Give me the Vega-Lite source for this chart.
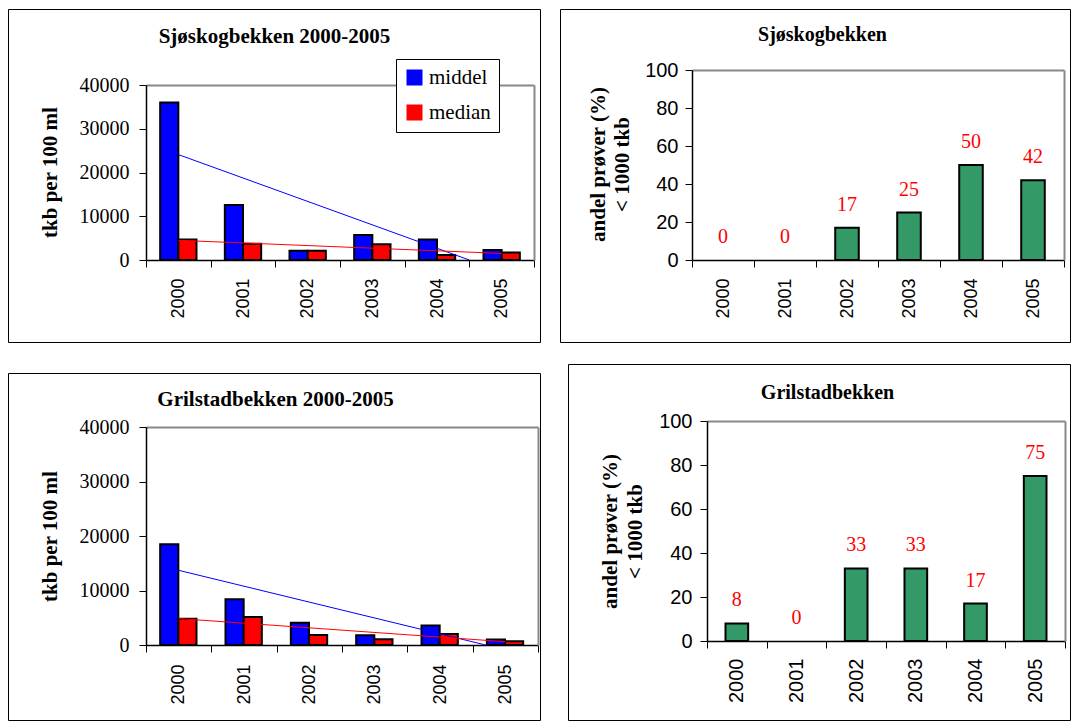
{
  "$schema": "https://vega.github.io/schema/vega-lite/v6.json",
  "background": "white",
  "padding": {"left": -2, "top": 8, "right": 0, "bottom": 0},
  "datasets": {
    "sjo_tkb": [
      {"year": "2000", "series": "middel", "value": 36000},
      {"year": "2001", "series": "middel", "value": 12600},
      {"year": "2002", "series": "middel", "value": 2100},
      {"year": "2003", "series": "middel", "value": 5700},
      {"year": "2004", "series": "middel", "value": 4700},
      {"year": "2005", "series": "middel", "value": 2300},
      {"year": "2000", "series": "median", "value": 4700},
      {"year": "2001", "series": "median", "value": 3700},
      {"year": "2002", "series": "median", "value": 2100},
      {"year": "2003", "series": "median", "value": 3600},
      {"year": "2004", "series": "median", "value": 1150},
      {"year": "2005", "series": "median", "value": 1700}
    ],
    "sjo_trend": [
      {"t": 2000, "series": "middel", "value": 24100},
      {"t": 2004.5, "series": "middel", "value": 0},
      {"t": 2000, "series": "median", "value": 4500},
      {"t": 2005, "series": "median", "value": 1500}
    ],
    "sjo_pct": [
      {"year": "2000", "pct": 0},
      {"year": "2001", "pct": 0},
      {"year": "2002", "pct": 17},
      {"year": "2003", "pct": 25},
      {"year": "2004", "pct": 50},
      {"year": "2005", "pct": 42}
    ],
    "gril_tkb": [
      {"year": "2000", "series": "middel", "value": 18500},
      {"year": "2001", "series": "middel", "value": 8400},
      {"year": "2002", "series": "middel", "value": 4100},
      {"year": "2003", "series": "middel", "value": 1800},
      {"year": "2004", "series": "middel", "value": 3600},
      {"year": "2005", "series": "middel", "value": 1000},
      {"year": "2000", "series": "median", "value": 4800},
      {"year": "2001", "series": "median", "value": 5150},
      {"year": "2002", "series": "median", "value": 1850},
      {"year": "2003", "series": "median", "value": 1050},
      {"year": "2004", "series": "median", "value": 2000},
      {"year": "2005", "series": "median", "value": 700}
    ],
    "gril_trend": [
      {"t": 2000, "series": "middel", "value": 13700},
      {"t": 2004.7, "series": "middel", "value": 0},
      {"t": 2000, "series": "median", "value": 4850},
      {"t": 2005, "series": "median", "value": 600}
    ],
    "gril_pct": [
      {"year": "2000", "pct": 8},
      {"year": "2001", "pct": 0},
      {"year": "2002", "pct": 33},
      {"year": "2003", "pct": 33},
      {"year": "2004", "pct": 17},
      {"year": "2005", "pct": 75}
    ]
  },
  "config": {
    "axis": {"grid": false, "domainColor": "black", "tickColor": "black", "labelColor": "black", "titleColor": "black"}
  },
  "vconcat": [
    {
      "hconcat": [
        {
          "width": 532, "height": 333,
          "view": {"stroke": "black", "strokeWidth": 1},
          "resolve": {"scale": {"x": "independent"}, "axis": {"x": "independent", "y": "independent"}},
          "layer": [
            {
              "data": {"name": "sjo_tkb"},
              "mark": {"type": "bar", "stroke": "black", "strokeWidth": 2},
              "encoding": {
                "x": {"field": "year", "type": "nominal", "scale": {"range": [138, 526], "paddingInner": 0, "paddingOuter": 0},
                  "axis": {"orient": "bottom", "offset": -82, "title": null, "tickBand": "extent", "tickSize": 7, "domainWidth": 1.5, "labelAngle": 270, "labelAlign": "right", "labelBaseline": "middle", "labelFont": "Liberation Sans", "labelFontSize": 18, "labelPadding": 11}},
                "xOffset": {"field": "series", "type": "nominal", "scale": {"domain": ["middel", "median"], "paddingInner": 0, "paddingOuter": 0.78}},
                "y": {"field": "value", "type": "quantitative", "scale": {"domain": [0, 40000], "range": [251, 76], "nice": false},
                  "axis": {"orient": "left", "offset": -138, "values": [0, 10000, 20000, 30000, 40000], "format": "d", "tickSize": 7, "domainWidth": 1.5, "labelFont": "Liberation Serif", "labelFontSize": 20, "labelPadding": 10,
                    "title": "tkb per 100 ml", "titleFont": "Liberation Serif", "titleFontSize": 21, "titleFontWeight": "bold", "titleAngle": 270, "titleAlign": "center", "titleBaseline": "middle", "titleX": -96, "titleY": 163}},
                "color": {"field": "series", "type": "nominal", "scale": {"domain": ["middel", "median"], "range": ["#0000FF", "#FF0000"]},
                  "legend": {"orient": "none", "legendX": 388, "legendY": 50, "title": null, "symbolType": "square", "symbolSize": 196, "symbolStrokeColor": "black", "symbolStrokeWidth": 2, "labelFont": "Liberation Serif", "labelFontSize": 21, "labelColor": "black", "strokeColor": "black", "fillColor": "white", "padding": 8, "rowPadding": 12, "labelOffset": 4}}
              }
            },
            {
              "data": {"name": "sjo_trend"},
              "mark": {"type": "line", "strokeWidth": 1},
              "encoding": {
                "x": {"field": "t", "type": "quantitative", "scale": {"domain": [1999.5, 2005.5], "range": [138, 526], "nice": false, "zero": false},
                  "axis": {"orient": "top", "offset": -76, "ticks": false, "labels": false, "domainColor": "#888888", "domainWidth": 2,
                    "title": "Sjøskogbekken 2000-2005", "titleFont": "Liberation Serif", "titleFontSize": 21, "titleFontWeight": "bold", "titleAlign": "center", "titleBaseline": "alphabetic", "titleAngle": 0, "titleX": 266, "titleY": -43}},
                "y": {"field": "value", "type": "quantitative", "scale": {"domain": [0, 40000], "range": [251, 76], "nice": false},
                  "axis": {"orient": "right", "offset": -6, "title": null, "ticks": false, "labels": false, "domainColor": "#888888", "domainWidth": 2}},
                "stroke": {"field": "series", "type": "nominal", "scale": {"domain": ["middel", "median"], "range": ["#0000FF", "#FF0000"]}, "legend": null}
              }
            }
          ]
        },
        {
          "width": 510, "height": 333,
          "view": {"stroke": "black", "strokeWidth": 1},
          "resolve": {"axis": {"x": "independent", "y": "independent"}},
          "data": {"name": "sjo_pct"},
          "layer": [
            {
              "transform": [{"filter": "datum.pct > 0"}],
              "mark": {"type": "bar", "fill": "#339966", "stroke": "black", "strokeWidth": 2, "width": {"band": 0.38}},
              "encoding": {
                "x": {"field": "year", "type": "nominal", "scale": {"range": [132, 504], "paddingInner": 0, "paddingOuter": 0},
                  "axis": {"orient": "bottom", "offset": -82, "title": null, "tickBand": "extent", "tickSize": 7, "domainWidth": 1.5, "labelAngle": 270, "labelAlign": "right", "labelBaseline": "middle", "labelFont": "Liberation Sans", "labelFontSize": 18, "labelPadding": 11}},
                "y": {"field": "pct", "type": "quantitative", "scale": {"domain": [0, 100], "range": [251, 61], "nice": false},
                  "axis": {"orient": "left", "offset": -132, "values": [0, 20, 40, 60, 80, 100], "tickSize": 7, "domainWidth": 1.5, "labelFont": "Liberation Sans", "labelFontSize": 20, "labelPadding": 7,
                    "title": ["andel prøver (%)", "< 1000 tkb"], "titleLineHeight": 24, "titleFont": "Liberation Serif", "titleFontSize": 21, "titleFontWeight": "bold", "titleAngle": 270, "titleAlign": "center", "titleBaseline": "middle", "titleX": -94, "titleY": 155}}
              }
            },
            {
              "mark": {"type": "text", "color": "#FF0000", "font": "Liberation Serif", "fontSize": 20, "baseline": "alphabetic", "dy": -17},
              "encoding": {
                "x": {"field": "year", "type": "nominal",
                  "axis": {"orient": "top", "offset": -61, "ticks": false, "labels": false, "domainColor": "#888888", "domainWidth": 2,
                    "title": "Sjøskogbekken", "titleFont": "Liberation Serif", "titleFontSize": 20, "titleFontWeight": "bold", "titleAlign": "center", "titleBaseline": "alphabetic", "titleAngle": 0, "titleX": 262, "titleY": -30}},
                "y": {"field": "pct", "type": "quantitative",
                  "axis": {"orient": "right", "offset": -6, "title": null, "ticks": false, "labels": false, "domainColor": "#888888", "domainWidth": 2}},
                "text": {"field": "pct", "type": "quantitative"}
              }
            }
          ]
        }
      ],
      "spacing": 20,
      "bounds": "flush"
    },
    {
      "hconcat": [
        {
          "vconcat": [
            {
              "width": 532, "height": 9,
              "view": {"stroke": null},
              "data": {"values": []},
              "mark": {"type": "point", "opacity": 0}
            },
            {
              "width": 532, "height": 347,
              "view": {"stroke": "black", "strokeWidth": 1},
              "resolve": {"scale": {"x": "independent"}, "axis": {"x": "independent", "y": "independent"}},
              "layer": [
                {
                  "data": {"name": "gril_tkb"},
                  "mark": {"type": "bar", "stroke": "black", "strokeWidth": 2},
                  "encoding": {
                    "x": {"field": "year", "type": "nominal", "scale": {"range": [138, 530], "paddingInner": 0, "paddingOuter": 0},
                      "axis": {"orient": "bottom", "offset": -75, "title": null, "tickBand": "extent", "tickSize": 7, "domainWidth": 1.5, "labelAngle": 270, "labelAlign": "right", "labelBaseline": "middle", "labelFont": "Liberation Sans", "labelFontSize": 18, "labelPadding": 12}},
                    "xOffset": {"field": "series", "type": "nominal", "scale": {"domain": ["middel", "median"], "paddingInner": 0, "paddingOuter": 0.82}},
                    "y": {"field": "value", "type": "quantitative", "scale": {"domain": [0, 40000], "range": [272, 54], "nice": false},
                      "axis": {"orient": "left", "offset": -138, "values": [0, 10000, 20000, 30000, 40000], "format": "d", "tickSize": 7, "domainWidth": 1.5, "labelFont": "Liberation Serif", "labelFontSize": 20, "labelPadding": 10,
                        "title": "tkb per 100 ml", "titleFont": "Liberation Serif", "titleFontSize": 21, "titleFontWeight": "bold", "titleAngle": 270, "titleAlign": "center", "titleBaseline": "middle", "titleX": -96, "titleY": 163}},
                    "color": {"field": "series", "type": "nominal", "scale": {"domain": ["middel", "median"], "range": ["#0000FF", "#FF0000"]},
                      "legend": {"orient": "none", "legendX": 399, "legendY": 70, "title": null, "symbolType": "square", "symbolSize": 196, "symbolStrokeColor": "black", "symbolStrokeWidth": 2, "labelFont": "Liberation Serif", "labelFontSize": 21, "labelColor": "black", "strokeColor": "black", "fillColor": "white", "padding": 8, "rowPadding": 12, "labelOffset": 4}}
                  }
                },
                {
                  "data": {"name": "gril_trend"},
                  "mark": {"type": "line", "strokeWidth": 1},
                  "encoding": {
                    "x": {"field": "t", "type": "quantitative", "scale": {"domain": [1999.5, 2005.5], "range": [138, 530], "nice": false, "zero": false},
                      "axis": {"orient": "top", "offset": -54, "ticks": false, "labels": false, "domainColor": "#888888", "domainWidth": 2,
                        "title": "Grilstadbekken 2000-2005", "titleFont": "Liberation Serif", "titleFontSize": 21, "titleFontWeight": "bold", "titleAlign": "center", "titleBaseline": "alphabetic", "titleAngle": 0, "titleX": 267, "titleY": -22}},
                    "y": {"field": "value", "type": "quantitative", "scale": {"domain": [0, 40000], "range": [272, 54], "nice": false},
                      "axis": {"orient": "right", "offset": -2, "title": null, "ticks": false, "labels": false, "domainColor": "#888888", "domainWidth": 2}},
                    "stroke": {"field": "series", "type": "nominal", "scale": {"domain": ["middel", "median"], "range": ["#0000FF", "#FF0000"]}, "legend": null}
                  }
                }
              ]
            }
          ],
          "spacing": 0,
          "bounds": "flush"
        },
        {
          "width": 502, "height": 356,
          "view": {"stroke": "black", "strokeWidth": 1},
          "resolve": {"axis": {"x": "independent", "y": "independent"}},
          "data": {"name": "gril_pct"},
          "layer": [
            {
              "transform": [{"filter": "datum.pct > 0"}],
              "mark": {"type": "bar", "fill": "#339966", "stroke": "black", "strokeWidth": 2, "width": {"band": 0.38}},
              "encoding": {
                "x": {"field": "year", "type": "nominal", "scale": {"range": [139, 497], "paddingInner": 0, "paddingOuter": 0},
                  "axis": {"orient": "bottom", "offset": -79, "title": null, "tickBand": "extent", "tickSize": 7, "domainWidth": 1.5, "labelAngle": 270, "labelAlign": "right", "labelBaseline": "middle", "labelFont": "Liberation Sans", "labelFontSize": 20, "labelPadding": 10}},
                "y": {"field": "pct", "type": "quantitative", "scale": {"domain": [0, 100], "range": [277, 57], "nice": false},
                  "axis": {"orient": "left", "offset": -139, "values": [0, 20, 40, 60, 80, 100], "tickSize": 7, "domainWidth": 1.5, "labelFont": "Liberation Sans", "labelFontSize": 20, "labelPadding": 8,
                    "title": ["andel prøver (%)", "< 1000 tkb"], "titleLineHeight": 25, "titleFont": "Liberation Serif", "titleFontSize": 21, "titleFontWeight": "bold", "titleAngle": 270, "titleAlign": "center", "titleBaseline": "middle", "titleX": -97, "titleY": 167}}
              }
            },
            {
              "mark": {"type": "text", "color": "#FF0000", "font": "Liberation Serif", "fontSize": 20, "baseline": "alphabetic", "dy": -17},
              "encoding": {
                "x": {"field": "year", "type": "nominal",
                  "axis": {"orient": "top", "offset": -57, "ticks": false, "labels": false, "domainColor": "#888888", "domainWidth": 2,
                    "title": "Grilstadbekken", "titleFont": "Liberation Serif", "titleFontSize": 20, "titleFontWeight": "bold", "titleAlign": "center", "titleBaseline": "alphabetic", "titleAngle": 0, "titleX": 259, "titleY": -23}},
                "y": {"field": "pct", "type": "quantitative",
                  "axis": {"orient": "right", "offset": -5, "title": null, "ticks": false, "labels": false, "domainColor": "#888888", "domainWidth": 2}},
                "text": {"field": "pct", "type": "quantitative"}
              }
            }
          ]
        }
      ],
      "spacing": 16
    }
  ],
  "spacing": 20
}
